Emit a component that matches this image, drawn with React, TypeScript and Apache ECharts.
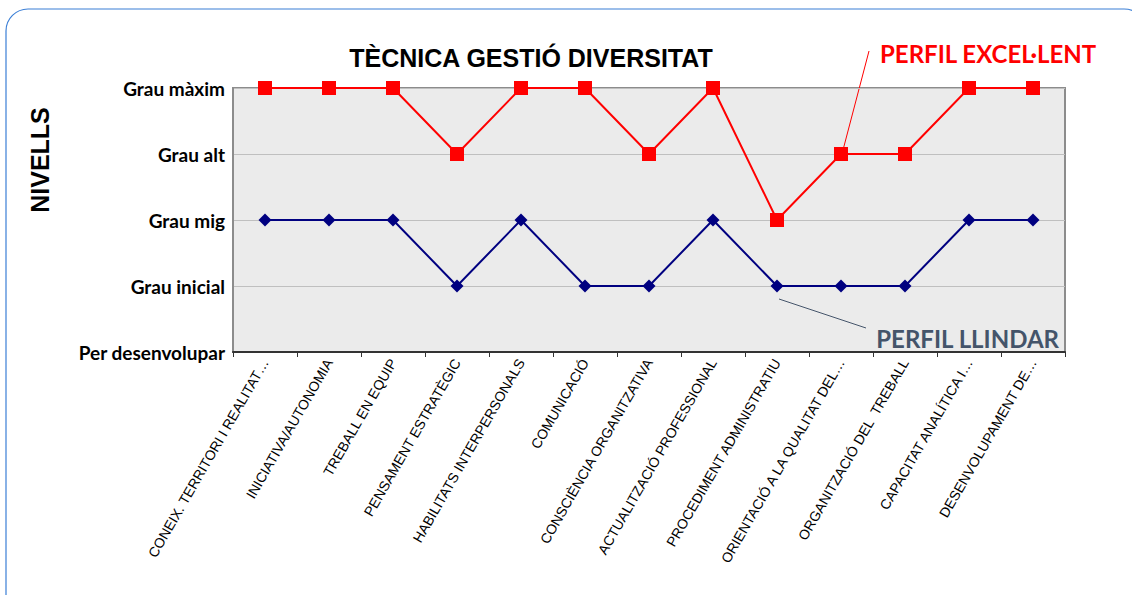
import React, { useEffect, useRef } from "react";
import * as echarts from "echarts";

const categories = [
  "CONEIX. TERRITORI I REALITAT…",
  "INICIATIVA/AUTONOMIA",
  "TREBALL EN EQUIP",
  "PENSAMENT ESTRATÈGIC",
  "HABILITATS INTERPERSONALS",
  "COMUNICACIÓ",
  "CONSCIÈNCIA ORGANITZATIVA",
  "ACTUALITZACIÓ PROFESSIONAL",
  "PROCEDIMENT ADMINISTRATIU",
  "ORIENTACIÓ A LA QUALITAT DEL…",
  "ORGANITZACIÓ DEL  TREBALL",
  "CAPACITAT ANALÍTICA I…",
  "DESENVOLUPAMENT DE…",
];

const levelLabels = ["Per desenvolupar", "Grau inicial", "Grau mig", "Grau alt", "Grau màxim"];

const perfilExcellent = [4, 4, 4, 3, 4, 4, 3, 4, 2, 3, 3, 4, 4];
const perfilLlindar = [2, 2, 2, 1, 2, 1, 1, 2, 1, 1, 1, 2, 2];

export default function App() {
  const ref = useRef<HTMLDivElement>(null);
  useEffect(() => {
    if (!ref.current) return;
    const chart = echarts.init(ref.current, null, { renderer: "svg" });
    chart.setOption({
      animation: false,
      backgroundColor: "#ffffff",
      grid: {
        left: 233,
        right: 67,
        top: 88,
        bottom: 243,
        show: true,
        backgroundColor: "#ebebeb",
        borderColor: "#8c8c8c",
        borderWidth: 2,
      },
      xAxis: {
        type: "category",
        data: categories,
        boundaryGap: true,
        axisLine: { lineStyle: { color: "#333333", width: 2 } },
        axisTick: { show: true, interval: 0, length: 5, lineStyle: { color: "#333333" } },
        axisLabel: {
          interval: 0,
          rotate: 60,
          margin: 8,
          fontFamily: "'Liberation Sans', Arial, sans-serif",
          fontSize: 14,
          color: "#000000",
        },
      },
      yAxis: {
        type: "value",
        min: 0,
        max: 4,
        interval: 1,
        axisLine: { show: true, lineStyle: { color: "#8c8c8c", width: 2 } },
        axisTick: { show: false },
        splitLine: { lineStyle: { color: "#bfbfbf", width: 1 } },
        axisLabel: {
          margin: 8,
          formatter: (v: number) => levelLabels[v] ?? "",
          fontFamily: "Lato, 'Open Sans', sans-serif",
          fontWeight: "bold",
          fontSize: 19,
          color: "#000000",
        },
      },
      series: [
        {
          name: "PERFIL EXCEL·LENT",
          type: "line",
          data: perfilExcellent,
          symbol: "rect",
          symbolSize: 14,
          lineStyle: { color: "#ff0000", width: 2 },
          itemStyle: { color: "#ff0000" },
          z: 3,
        },
        {
          name: "PERFIL LLINDAR",
          type: "line",
          data: perfilLlindar,
          symbol: "diamond",
          symbolSize: 13,
          lineStyle: { color: "#000080", width: 2 },
          itemStyle: { color: "#000080" },
          z: 2,
        },
      ],
      graphic: [
        {
          type: "rect",
          shape: { x: 6, y: 9, width: 1140, height: 620, r: 22 },
          style: { fill: "none", stroke: "#3b7fd6", lineWidth: 1.2 },
          z: -10,
        },
        {
          type: "text",
          x: 531,
          y: 58,
          style: {
            text: "TÈCNICA GESTIÓ DIVERSITAT",
            fontFamily: "'Liberation Sans', Arial, sans-serif",
            fontWeight: "bold",
            fontSize: 25,
            fill: "#000000",
            align: "center",
            verticalAlign: "middle",
          },
        },
        {
          type: "text",
          x: 40,
          y: 160,
          rotation: Math.PI / 2,
          style: {
            text: "NIVELLS",
            fontFamily: "'Liberation Sans', Arial, sans-serif",
            fontWeight: "bold",
            fontSize: 25,
            fill: "#000000",
            align: "center",
            verticalAlign: "middle",
          },
        },
        {
          type: "text",
          x: 880,
          y: 53,
          style: {
            text: "PERFIL EXCEL·LENT",
            fontFamily: "Lato, 'Open Sans', sans-serif",
            fontWeight: "bold",
            fontSize: 24,
            fill: "#ff0000",
            align: "left",
            verticalAlign: "middle",
          },
        },
        {
          type: "line",
          shape: { x1: 869, y1: 51, x2: 843, y2: 150 },
          style: { stroke: "#ff0000", lineWidth: 1 },
        },
        {
          type: "text",
          x: 1059,
          y: 338,
          style: {
            text: "PERFIL LLINDAR",
            fontFamily: "Lato, 'Open Sans', sans-serif",
            fontWeight: "bold",
            fontSize: 24,
            fill: "#44546a",
            align: "right",
            verticalAlign: "middle",
          },
        },
        {
          type: "line",
          shape: { x1: 779, y1: 299, x2: 866, y2: 328 },
          style: { stroke: "#44546a", lineWidth: 1 },
        },
      ],
    });
    return () => chart.dispose();
  }, []);
  return (
    <div
      ref={ref}
      style={{ position: "fixed", left: 0, top: 0, width: 1132, height: 595 }}
    />
  );
}
